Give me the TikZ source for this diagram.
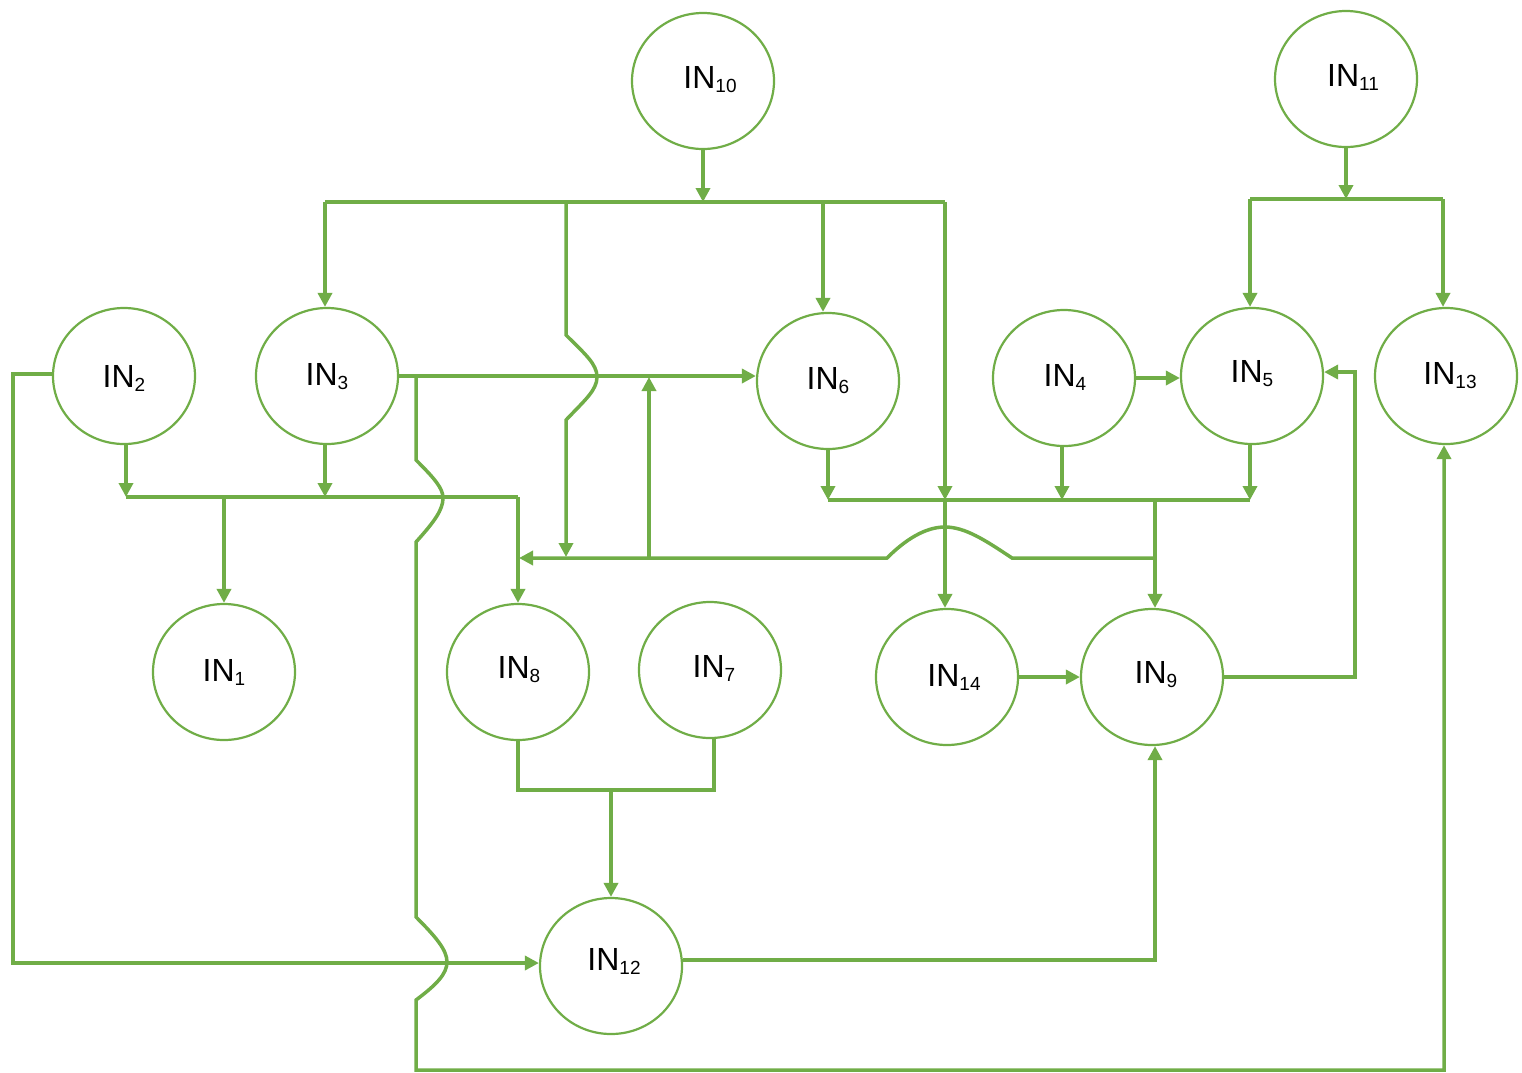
\documentclass[tikz,border=0pt]{standalone}
\usepackage{fontspec}
\setmainfont{Liberation Sans}
\usetikzlibrary{arrows.meta,shapes.geometric}
\definecolor{gr}{HTML}{70AD47}
\newcommand\insub[1]{\raisebox{-4pt}{\fontsize{19}{20}\selectfont #1}}
\begin{document}
\begin{tikzpicture}[x=1pt,y=-1pt,
  inn/.style={ellipse,draw=gr,line width=2.2pt,minimum width=142pt,minimum height=136pt,inner sep=0pt},
  lbl/.style={anchor=base,font=\fontsize{32}{38}\selectfont,inner sep=0pt},
  ln/.style={draw=gr,line width=3.5pt},
  arr/.style={ln,-{Triangle[length=14pt,width=14pt]}}]
\useasboundingbox (0,0) rectangle (1522,1072);
% nodes
\node[inn] (n10) at (703,81) {};
\node[inn] (n11) at (1346,79) {};
\node[inn] (n2) at (124,376) {};
\node[inn] (n3) at (327,376) {};
\node[inn] (n6) at (828,381) {};
\node[inn] (n4) at (1064,378) {};
\node[inn] (n5) at (1252,376) {};
\node[inn] (n13) at (1446,376) {};
\node[inn] (n1) at (224,672) {};
\node[inn] (n8) at (518,672) {};
\node[inn] (n7) at (710,670) {};
\node[inn] (n14) at (947,677) {};
\node[inn] (n9) at (1152,677) {};
\node[inn] (n12) at (611,966) {};
% labels
\node[lbl] (t10) at (710,88) {IN\insub{10}};
\node[lbl] (t11) at (1353,86) {IN\insub{11}};
\node[lbl] (t2) at (124,387) {IN\insub{2}};
\node[lbl] (t3) at (327,385) {IN\insub{3}};
\node[lbl] (t6) at (828,389) {IN\insub{6}};
\node[lbl] (t4) at (1065,386) {IN\insub{4}};
\node[lbl] (t5) at (1252,382) {IN\insub{5}};
\node[lbl] (t13) at (1450,384) {IN\insub{13}};
\node[lbl] (t1) at (224,681) {IN\insub{1}};
\node[lbl] (t8) at (519,678) {IN\insub{8}};
\node[lbl] (t7) at (714,677) {IN\insub{7}};
\node[lbl] (t14) at (954,686) {IN\insub{14}};
\node[lbl] (t9) at (1156,683) {IN\insub{9}};
\node[lbl] (t12) at (614,970) {IN\insub{12}};
% IN10 bus
\draw[arr] (n10.south) -- (703,202);
\draw[ln] (325,202) -- (945,202);
\draw[arr] (325,202) -- ([xshift=-2pt]n3.north);
\draw[arr] (566,202) -- (566,335) .. controls (585,354) and (597,364) .. (597,377)
  .. controls (597,390) and (585,400) .. (566,420) -- (566,557);
\draw[arr] (823,202) -- ([xshift=-5pt]n6.north);
\draw[arr] (945,202) -- (945,500);
\draw[arr] (945,500) -- ([xshift=-2pt]n14.north);
% IN3 -> IN6
\draw[arr] (n3.east) -- (n3.east -| n6.west);
% IN3 long branch to IN13
\draw[arr] (416,377) -- (416,460) .. controls (434,478) and (443,488) .. (443,498)
  .. controls (443,510) and (434,522) .. (416,542) -- (416,917)
  .. controls (436,937) and (447,950) .. (447,962)
  .. controls (447,974) and (436,985) .. (416,1000) -- (416,1070) -- (1444,1070)
  -- ([xshift=-2pt]n13.south);
% IN2, IN3 lower bus
\draw[arr] ([xshift=2pt]n2.south) -- (126,497);
\draw[arr] ([xshift=-2pt]n3.south) -- (325,497);
\draw[ln] (126,497) -- (518,497);
\draw[arr] (518,497) -- (n8.north);
\draw[arr] (224,497) -- (n1.north);
% feedback line y=558
\draw[arr] (1155,558) -- (1012,558) .. controls (985,540) and (965,527) .. (945,527)
  .. controls (925,527) and (905,540) .. (887,558) -- (519,558);
\draw[arr] (649,558) -- (649,377);
% IN6, IN4, IN5 bus
\draw[arr] (n6.south) -- (828,500);
\draw[arr] ([xshift=-2pt]n4.south) -- (1062,500);
\draw[arr] ([xshift=-2pt]n5.south) -- (1250,500);
\draw[ln] (828,500) -- (1250,500);
\draw[arr] (1155,500) -- ([xshift=3pt]n9.north);
% IN4 -> IN5
\draw[arr] (n4.east) -- (n4.east -| n5.west);
% IN11 bus
\draw[arr] (n11.south) -- (1346,199);
\draw[ln] (1250,199) -- (1443,199);
\draw[arr] (1250,199) -- ([xshift=-2pt]n5.north);
\draw[arr] (1443,199) -- ([xshift=-3pt]n13.north);
% IN9 -> IN5
\draw[arr] (n9.east) -- (1355,677) -- (1355,372) -- ([yshift=4pt]n5.east);
% IN14 -> IN9
\draw[arr] (n14.east) -- (n9.west);
% IN8, IN7 -> IN12
\draw[ln] (n8.south) -- (518,790) -- (714,790) -- ([xshift=4pt]n7.south);
\draw[arr] (611,790) -- (n12.north);
% IN2 -> IN12
\draw[arr] ([yshift=2pt]n2.west) -- (13,374) -- (13,963) -- ([yshift=3pt]n12.west);
% IN12 -> IN9
\draw[arr] ([yshift=6pt]n12.east) -- (1155,960) -- ([xshift=3pt]n9.south);
\end{tikzpicture}
\end{document}
